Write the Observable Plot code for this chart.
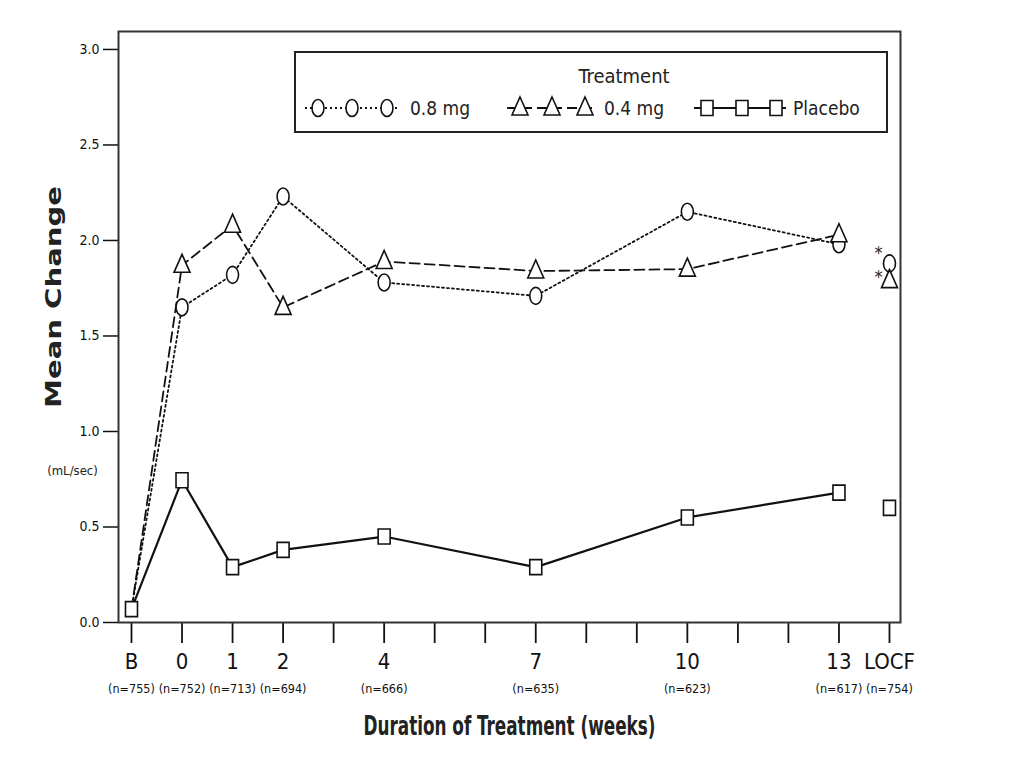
<!DOCTYPE html>
<html>
<head>
<meta charset="utf-8">
<script src="https://cdn.jsdelivr.net/npm/d3@7"></script>
<script src="https://cdn.jsdelivr.net/npm/@observablehq/plot@0.6"></script>
<style>
  html, body { margin: 0; padding: 0; background: #fff; }
  #wrap { position: relative; width: 1024px; height: 768px; }
  #wrap svg { position: absolute; left: 0; top: 0; }
</style>
</head>
<body>
<div id="wrap"></div>
<script>
// ---- data ----
// week positions: -1 = "B" (baseline), 14 = "LOCF"
const weeks = [-1, 0, 1, 2, 4, 7, 10, 13, 14];
const nLabels = ["(n=755)", "(n=752)", "(n=713)", "(n=694)", "(n=666)", "(n=635)", "(n=623)", "(n=617)", "(n=754)"];
const tickWeeks = [-1, 0, 1, 2, 3, 4, 5, 6, 7, 8, 9, 10, 11, 12, 13, 14];
const tickNames = {"-1": "B", "0": "0", "1": "1", "2": "2", "4": "4", "7": "7", "10": "10", "13": "13", "14": "LOCF"};
const yTicks = [0, 0.5, 1.0, 1.5, 2.0, 2.5, 3.0];
const mg08 = [0.07, 1.65, 1.82, 2.23, 1.78, 1.71, 2.15, 1.98, 1.88];
const mg04 = [0.07, 1.87, 2.08, 1.65, 1.89, 1.84, 1.85, 2.03, 1.79];
const placebo = [0.07, 0.745, 0.29, 0.38, 0.45, 0.29, 0.55, 0.68, 0.60];
const seriesNames = ["0.8 mg", "0.4 mg", "Placebo"];

const rows = [];
weeks.forEach((w, i) => {
  rows.push({week: w, value: mg08[i], series: seriesNames[0]});
  rows.push({week: w, value: mg04[i], series: seriesNames[1]});
  rows.push({week: w, value: placebo[i], series: seriesNames[2]});
});

// ---- custom symbols (slightly tall, as in the reference) ----
const K = 0.5523;
const ovalSym = {draw(c) { const rx = 6, ry = 8.5;
  c.moveTo(rx, 0);
  c.bezierCurveTo(rx, ry*K, rx*K, ry, 0, ry);
  c.bezierCurveTo(-rx*K, ry, -rx, ry*K, -rx, 0);
  c.bezierCurveTo(-rx, -ry*K, -rx*K, -ry, 0, -ry);
  c.bezierCurveTo(rx*K, -ry, rx, -ry*K, rx, 0);
  c.closePath(); }};
const triSym = {draw(c) { c.moveTo(0, -11); c.lineTo(8, 7); c.lineTo(-8, 7); c.closePath(); }};
const sqSym = {draw(c) { c.moveTo(-6, -7.5); c.lineTo(6, -7.5); c.lineTo(6, 7.5); c.lineTo(-6, 7.5); c.closePath(); }};
const symOf = {"0.8 mg": ovalSym, "0.4 mg": triSym, "Placebo": sqSym};
const dashOf = {"0.8 mg": "2,3", "0.4 mg": "10,5", "Placebo": null};

const FONT = "'DejaVu Sans Condensed', 'Liberation Sans Narrow', 'Roboto', sans-serif";

const marks = [];
// lines (LOCF is not connected)
for (const s of seriesNames) {
  marks.push(Plot.line(rows.filter(d => d.series === s && d.week <= 13), {
    x: "week", y: "value", stroke: "#111", strokeWidth: s === "Placebo" ? 2.2 : 1.8,
    strokeDasharray: dashOf[s]
  }));
}
// markers (baseline shows only the placebo square)
for (const s of seriesNames) {
  marks.push(Plot.dot(rows.filter(d => d.series === s && (s === "Placebo" || d.week >= 0)), {
    x: "week", y: "value", symbol: () => symOf[s], r: 6, fill: "white", stroke: "#111", strokeWidth: 1.6
  }));
}
// asterisks at LOCF (significant vs placebo)
marks.push(Plot.text(rows.filter(d => d.week === 14 && d.series === "0.8 mg"), {
  x: "week", y: "value", text: () => "*", fontSize: 18, fill: "#222", dx: -11, dy: -10
}));
marks.push(Plot.text(rows.filter(d => d.week === 14 && d.series === "0.4 mg"), {
  x: "week", y: "value", text: () => "*", fontSize: 18, fill: "#222", dx: -11, dy: -3
}));

const chart = Plot.plot({
  width: 1024, height: 768,
  marginLeft: 118, marginRight: 124, marginTop: 31, marginBottom: 146,
  style: {fontFamily: FONT, color: "#111", background: "white"},
  x: {domain: [-1.257, 14.218]},
  y: {domain: [0, 3.094]},
  marks: [
    Plot.axisY({ticks: yTicks, tickFormat: d3.format(".1f"), tickSize: 15, tickPadding: 4, fontSize: 14, label: null, strokeWidth: 1.5}),
    Plot.axisX({ticks: tickWeeks, tickFormat: d => tickNames[d] ?? "", tickSize: 21, tickPadding: 10, fontSize: 22, label: null, strokeWidth: 1.8}),
    Plot.axisX({ticks: weeks, tickFormat: d => nLabels[weeks.indexOf(d)], tickSize: 0, tickPadding: 62, fontSize: 12.5, label: null}),
    Plot.frame({stroke: "#333", strokeWidth: 2}),
    Plot.text(["Mean Change"], {frameAnchor: "left", textAnchor: "middle", dx: -65, dy: -30, rotate: -90, fontSize: 22, fontWeight: "bold", fontFamily: "'DejaVu Sans', sans-serif", fill: "#222"}),
    Plot.text(["(mL/sec)"], {frameAnchor: "left", textAnchor: "middle", dx: -46, dy: 144, fontSize: 13, fill: "#222"}),
    Plot.text(["Duration of Treatment (weeks)"], {frameAnchor: "bottom", dy: 112, fontSize: 27, fontWeight: "bold", fill: "#222"}),
    ...marks
  ]
});
document.getElementById("wrap").appendChild(chart);

// stretch the axis titles to the reference's lengths
chart.querySelectorAll("text").forEach(t => {
  const s = t.textContent;
  if (s === "Mean Change") { t.setAttribute("textLength", 222); t.setAttribute("lengthAdjust", "spacingAndGlyphs"); }
  if (s === "Duration of Treatment (weeks)") { t.setAttribute("textLength", 292); t.setAttribute("lengthAdjust", "spacingAndGlyphs"); }
});

// ---- legend box (overlay) ----
const lg = d3.select("#wrap").append("svg").attr("width", 1024).attr("height", 768)
  .style("pointer-events", "none").attr("font-family", FONT);
lg.append("rect").attr("x", 295).attr("y", 52).attr("width", 592).attr("height", 80)
  .attr("fill", "white").attr("stroke", "#222").attr("stroke-width", 2);
lg.append("text").attr("x", 624).attr("y", 83).attr("text-anchor", "middle")
  .attr("font-size", 20).attr("fill", "#222").text("Treatment");
const legendItems = [
  {name: seriesNames[0], x0: 305, marks: [318, 352, 387], tx: 410},
  {name: seriesNames[1], x0: 507, marks: [520, 552, 585], tx: 604},
  {name: seriesNames[2], x0: 694, marks: [707, 742, 776], tx: 793}
];
const symPath = s => { const p = d3.path(); symOf[s].draw(p); return p.toString(); };
for (const it of legendItems) {
  const g = lg.append("g");
  g.append("line").attr("x1", it.x0).attr("x2", it.marks[2] + 10).attr("y1", 108).attr("y2", 108)
    .attr("stroke", "#111").attr("stroke-width", 1.8).attr("stroke-dasharray", dashOf[it.name]);
  for (const m of it.marks) {
    g.append("path").attr("d", symPath(it.name)).attr("transform", `translate(${m},108)`)
      .attr("fill", "white").attr("stroke", "#111").attr("stroke-width", 1.6);
  }
  g.append("text").attr("x", it.tx).attr("y", 115).attr("font-size", 19).attr("fill", "#222").text(it.name);
}
</script>
</body>
</html>
